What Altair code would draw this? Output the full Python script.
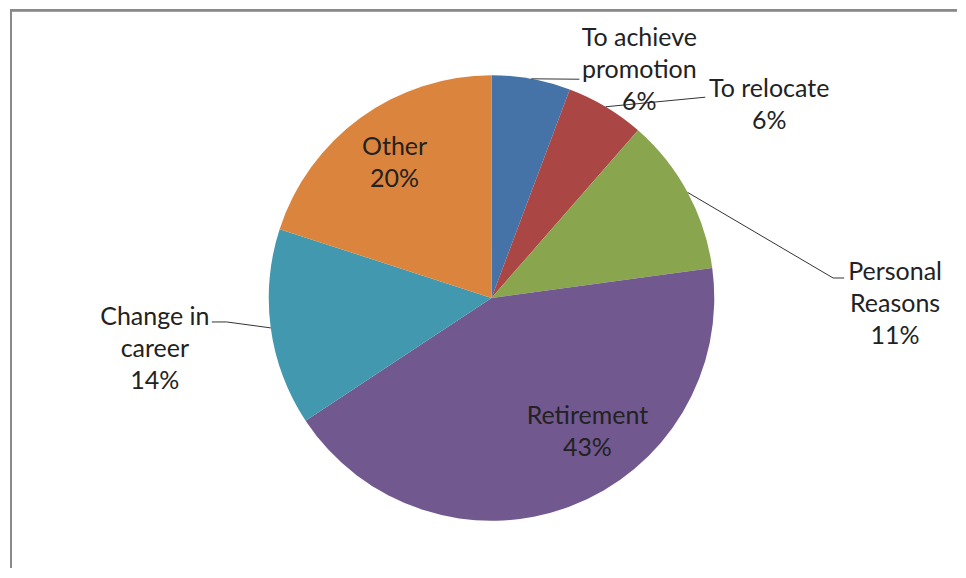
import altair as alt
import pandas as pd

# ---- data ----
categories = ["To achieve promotion", "To relocate", "Personal Reasons",
              "Retirement", "Change in career", "Other"]
counts = [2, 2, 4, 15, 5, 7]
label_names = ["To achieve\npromotion", "To relocate", "Personal\nReasons",
               "Retirement", "Change in\ncareer", "Other"]
colors = ["#4572A7", "#AA4643", "#89A54E", "#71588F", "#4198AF", "#DB843D"]

# ---- layout (pixels inside the chart) ----
CX, CY, R = 484, 290, 223
label_x = [632, 762, 888, 580, 147, 387]
label_y = [30, 80.5, 264, 408.5, 309, 139]   # middle of first text line
elbow_x = [572, 698, 826, None, 219, None]
elbow_y = [71, 89, 270, None, 314, None]
tail_x = [None, None, 837, None, 204, None]
tail_y = [None, None, 270, None, 314, None]

df = pd.DataFrame({
    "category": categories,
    "count": counts,
    "order": list(range(len(categories))),
    "name": label_names,
    "lx": label_x, "ly": label_y,
    "bx": elbow_x, "by": elbow_y,
    "tx": tail_x, "ty": tail_y,
})

base = alt.Chart(df)

pie = base.mark_arc(outerRadius=R).encode(
    theta=alt.Theta("count:Q", stack=True),
    color=alt.Color("category:N", scale=alt.Scale(domain=categories, range=colors), legend=None),
    order=alt.Order("order:Q"),
    x=alt.value(CX), y=alt.value(CY),
)

geo = base.transform_joinaggregate(
    total="sum(count)"
).transform_window(
    cum="sum(count)", sort=[alt.SortField("order")]
).transform_calculate(
    mid="(datum.cum - datum.count/2) / datum.total * 2 * PI",
).transform_calculate(
    ex=f"{CX} + {R} * sin(datum.mid)",
    ey=f"{CY} - {R} * cos(datum.mid)",
)

lead1 = geo.transform_filter("isValid(datum.bx)").mark_rule(
    color="#333333", strokeWidth=1
).encode(
    x=alt.X("ex:Q", scale=None), y=alt.Y("ey:Q", scale=None),
    x2="bx:Q", y2="by:Q",
)

lead2 = geo.transform_filter("isValid(datum.tx)").mark_rule(
    color="#333333", strokeWidth=1
).encode(
    x=alt.X("bx:Q", scale=None), y=alt.Y("by:Q", scale=None),
    x2="tx:Q", y2="ty:Q",
)

labels = base.transform_joinaggregate(
    total="sum(count)"
).transform_calculate(
    label="datum.name + '\\n' + format(datum.count / datum.total, '.0%')"
).mark_text(
    font="Lato", fontSize=25, lineHeight=32, lineBreak="\n",
    align="center", baseline="middle", color="#222222",
).encode(
    x=alt.X("lx:Q", scale=None), y=alt.Y("ly:Q", scale=None),
    text="label:N",
)

border_top = alt.Chart(df).mark_rule(color="#8a8a8a", strokeWidth=2).encode(
    x=alt.value(2), x2=alt.value(950), y=alt.value(2)
)
border_left = alt.Chart(df).mark_rule(color="#8a8a8a", strokeWidth=2).encode(
    x=alt.value(3), y=alt.value(1), y2=alt.value(560)
)

chart = alt.layer(pie, lead1, lead2, labels, border_top, border_left).properties(
    width=950, height=558, padding=0, background="white"
).configure_view(strokeOpacity=0)

chart.save("out.html", embed_options={"renderer": "svg", "actions": False})
